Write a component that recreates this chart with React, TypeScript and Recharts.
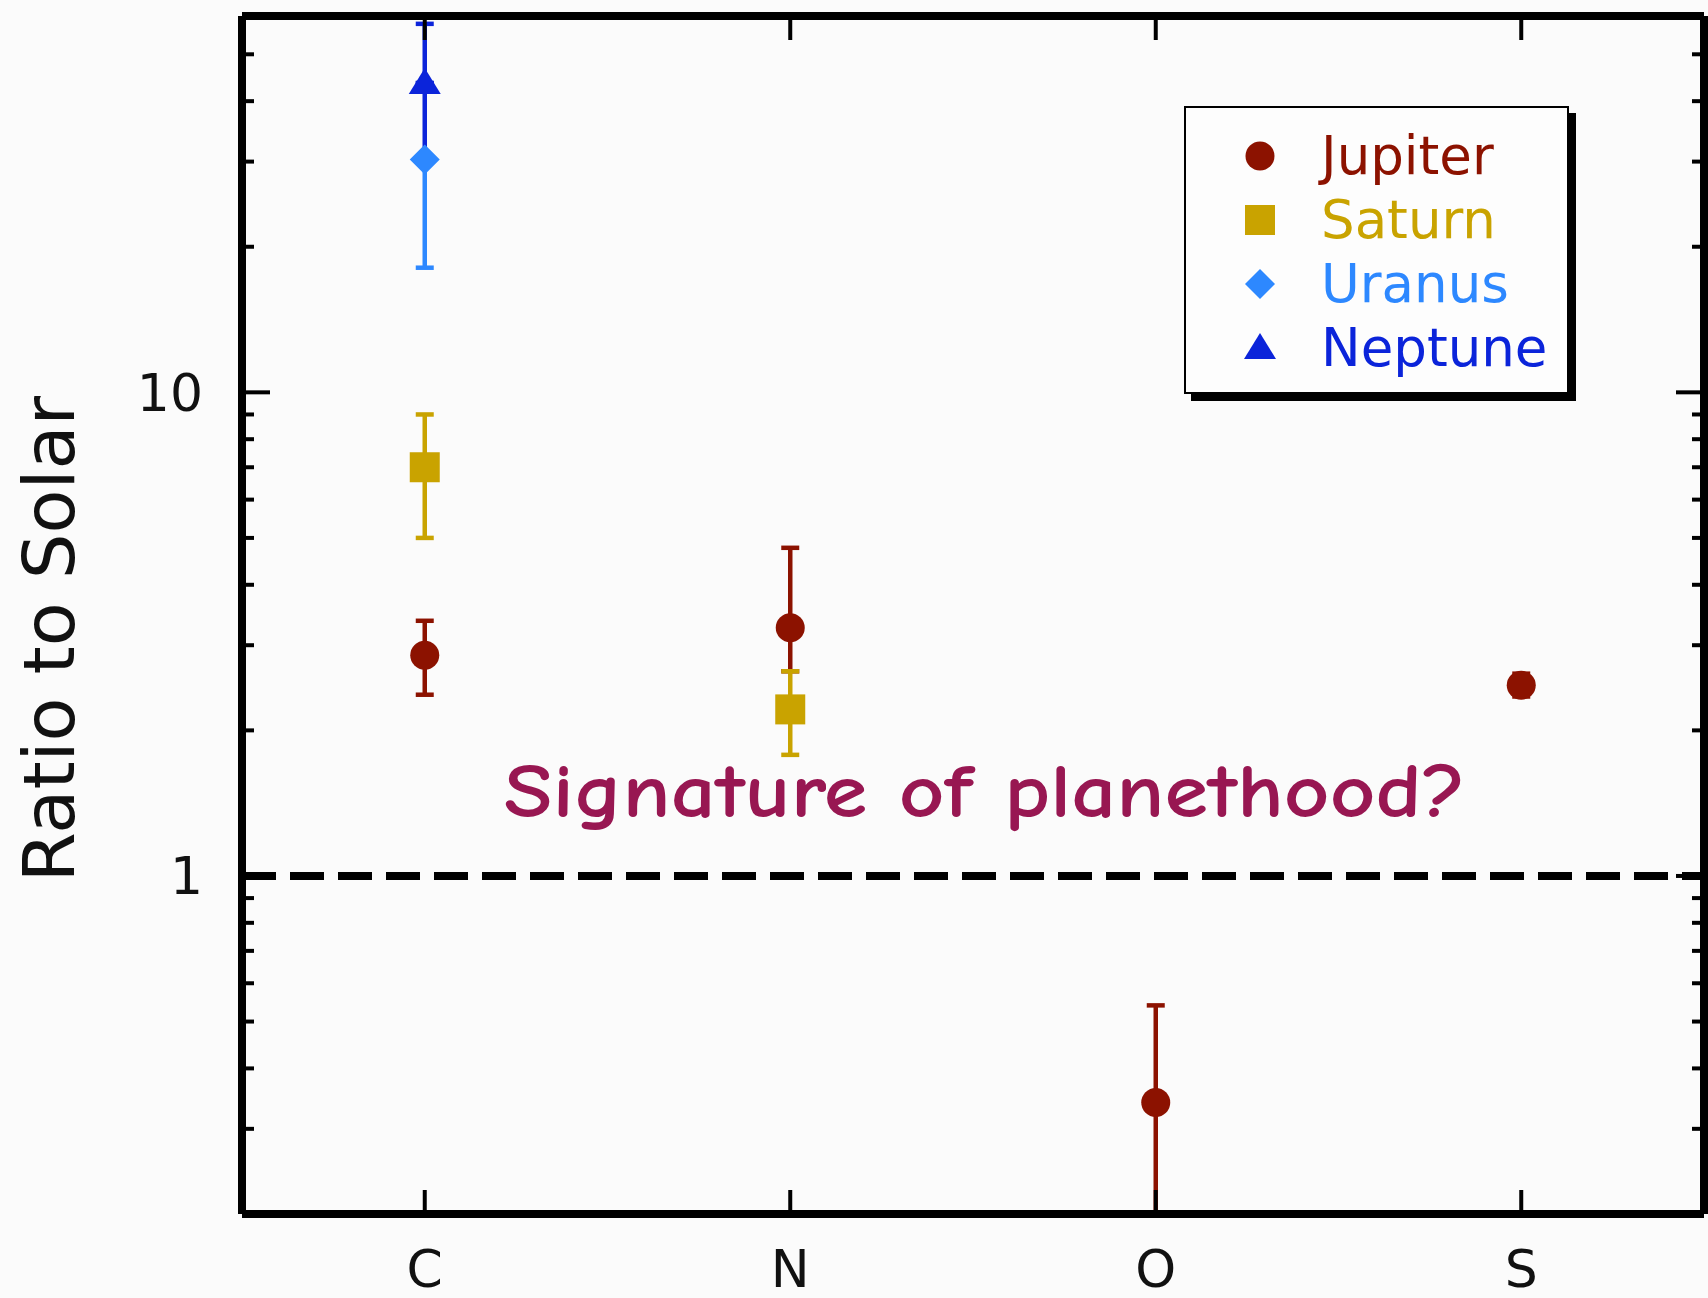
import React from 'react';
import { ScatterChart, Scatter, XAxis, YAxis, ErrorBar, ReferenceLine, Legend, Label } from 'recharts';

// element abundances relative to solar, one band per element
const elements = ['C', 'N', 'O', 'S'];

const jupiterRatio = [2.86, 3.26, 0.34, 2.48];
const jupiterLow = [2.37, 2.65, 0.15, 2.35];
const jupiterHigh = [3.37, 4.77, 0.54, 2.62];

const saturnRatio = [7.0, 2.21];
const saturnLow = [5.0, 1.78];
const saturnHigh = [9.0, 2.65];

const uranusRatio = [30.3];
const uranusLow = [18.1];
const uranusHigh = [30.3];

const neptuneRatio = [43.6];
const neptuneLow = [30.3];
const neptuneHigh = [57.8];

const yDomain: [number, number] = [0.2, 60];
const xDomain: [number, number] = [0, 4];
const yMajorTicks = [1, 10];
const yMinorTicks = [0.3, 0.4, 0.5, 0.6, 0.7, 0.8, 0.9, 2, 3, 4, 5, 6, 7, 8, 9, 20, 30, 40, 50];
const bandTicks = elements.map((_, i) => i + 0.5);

type MarkKind = 'circle' | 'square' | 'diamond' | 'triangle';
type Point = { x: number; y: number; errUp: number[]; errDown: number[]; open: boolean };

// lower bars that run past the bottom of the axis are cut at the floor and get no cap
function toPoints(ratio: number[], low: number[], high: number[]): Point[] {
  return ratio.map((v, i) => {
    const lo = Math.max(low[i], yDomain[0]);
    return {
      x: i + 0.5,
      y: v,
      errUp: [0, high[i] - v],
      errDown: [v - lo, 0],
      open: low[i] < yDomain[0],
    };
  });
}

const series = [
  { name: 'Jupiter', color: '#8c1200', kind: 'circle' as MarkKind, data: toPoints(jupiterRatio, jupiterLow, jupiterHigh) },
  { name: 'Saturn', color: '#c9a300', kind: 'square' as MarkKind, data: toPoints(saturnRatio, saturnLow, saturnHigh) },
  { name: 'Uranus', color: '#2d88ff', kind: 'diamond' as MarkKind, data: toPoints(uranusRatio, uranusLow, uranusHigh) },
  { name: 'Neptune', color: '#0b24da', kind: 'triangle' as MarkKind, data: toPoints(neptuneRatio, neptuneLow, neptuneHigh) },
];

// Neptune is drawn before Uranus so the diamond sits on top of the shared bar
const drawOrder = ['Jupiter', 'Saturn', 'Neptune', 'Uranus'];

function Mark({ kind, cx, cy, color }: { kind: MarkKind; cx: number; cy: number; color: string }) {
  switch (kind) {
    case 'circle':
      return <circle cx={cx} cy={cy} r={14.5} fill={color} />;
    case 'square':
      return <rect x={cx - 15} y={cy - 15} width={30} height={30} fill={color} />;
    case 'diamond':
      return <polygon points={`${cx},${cy - 15} ${cx + 15},${cy} ${cx},${cy + 15} ${cx - 15},${cy}`} fill={color} />;
    default:
      return <polygon points={`${cx},${cy - 15} ${cx + 16},${cy + 11} ${cx - 16},${cy + 11}`} fill={color} />;
  }
}

function LegendBox() {
  return (
    <div
      style={{
        width: 385,
        height: 288,
        boxSizing: 'border-box',
        border: '2px solid #000',
        background: '#fdfdfd',
        boxShadow: '7px 7px 0 #000',
        position: 'relative',
        fontFamily: "'DejaVu Sans', Verdana, sans-serif",
      }}
    >
      {series.map((s, i) => (
        <div key={s.name} style={{ position: 'absolute', left: 0, top: 16 + i * 64, height: 64, display: 'flex', alignItems: 'center' }}>
          <svg width={100} height={64} style={{ marginLeft: 24 }}>
            <Mark kind={s.kind} cx={50} cy={32} color={s.color} />
          </svg>
          <span style={{ color: s.color, fontSize: 53, marginLeft: 11, lineHeight: '64px' }}>{s.name}</span>
        </div>
      ))}
    </div>
  );
}

function YTitle(props: any) {
  const { viewBox } = props;
  const x = viewBox.x + 74;
  const y = viewBox.y + viewBox.height / 2 + 24;
  return (
    <text x={x} y={y} transform={`rotate(-90, ${x}, ${y})`} textAnchor="middle" fontSize={72} fill="#111">
      Ratio to Solar
    </text>
  );
}

function Annotation(props: any) {
  const { viewBox } = props;
  return (
    <text
      x={viewBox.x + viewBox.width / 2 + 12}
      y={viewBox.y - 59}
      textAnchor="middle"
      fontSize={76}
      fontWeight={700}
      fill="#981752"
      fontFamily="'Comic Sans MS', 'Comic Neue', 'DejaVu Sans', sans-serif"
      textLength={962}
      lengthAdjust="spacingAndGlyphs"
    >
      Signature of planethood?
    </text>
  );
}

const frame = { stroke: '#000', strokeWidth: 8 };
const tickMark = { stroke: '#000', strokeWidth: 4 };
const noLabel = () => '';

// inward tick marks on the left and right sides of the frame
const innerY = { type: 'number' as const, scale: 'log' as const, domain: yDomain, mirror: true, width: 1, tickLine: tickMark, tickFormatter: noLabel, allowDataOverflow: true };

export default function App() {
  return (
    <div style={{ position: 'absolute', left: 0, top: 0, width: 1708, height: 1298, background: '#fbfbfb' }}>
      <ScatterChart
        width={1708}
        height={1298}
        margin={{ top: 16, right: 4, bottom: 0, left: 0 }}
        style={{ fontFamily: "'DejaVu Sans', Verdana, sans-serif" }}
      >
        {/* bottom frame: tick marks point inward, labels sit below */}
        <XAxis
          xAxisId="b"
          type="number"
          dataKey="x"
          domain={xDomain}
          ticks={bandTicks}
          interval={0}
          tickFormatter={(v: number) => elements[Math.floor(v)]}
          height={84}
          axisLine={frame}
          tickLine={tickMark}
          tickSize={-24}
          tickMargin={60}
          tick={{ fontSize: 52, fill: '#111' }}
          allowDataOverflow
        />
        <XAxis
          xAxisId="top"
          orientation="top"
          type="number"
          dataKey="x"
          domain={xDomain}
          ticks={bandTicks}
          interval={0}
          mirror
          height={1}
          axisLine={frame}
          tickLine={tickMark}
          tickSize={24}
          tickFormatter={noLabel}
          allowDataOverflow
        />

        <YAxis
          yAxisId="l"
          dataKey="y"
          type="number"
          scale="log"
          domain={yDomain}
          ticks={yMajorTicks}
          tickFormatter={(v: number) => String(v)}
          width={242}
          axisLine={frame}
          tickLine={false}
          tickSize={0}
          tickMargin={39}
          tick={{ fontSize: 52, fill: '#111' }}
          allowDataOverflow
        >
          <Label content={YTitle} />
        </YAxis>
        <YAxis yAxisId="lMin" {...innerY} ticks={yMinorTicks} tickSize={11} axisLine={false} />
        <YAxis yAxisId="lMaj" {...innerY} ticks={yMajorTicks} tickSize={28} axisLine={false} />
        <YAxis yAxisId="rMin" orientation="right" {...innerY} ticks={yMinorTicks} tickSize={11} axisLine={false} />
        <YAxis yAxisId="rMaj" orientation="right" {...innerY} ticks={yMajorTicks} tickSize={28} axisLine={frame} />

        <ReferenceLine xAxisId="b" yAxisId="l" y={1} stroke="#000" strokeWidth={8} strokeDasharray="34 14">
          <Label content={Annotation} />
        </ReferenceLine>

        {drawOrder.flatMap((name) => {
          const s = series.find((d) => d.name === name)!;
          const capped = s.data.filter((p) => !p.open);
          const open = s.data.filter((p) => p.open);
          const groups = [
            { key: `${s.name}`, data: capped, lowerCap: 9 },
            { key: `${s.name}-open`, data: open, lowerCap: 0 },
          ].filter((g) => g.data.length > 0);
          return groups.map((g) => (
            <Scatter
              key={g.key}
              name={s.name}
              xAxisId="b"
              yAxisId="l"
              data={g.data}
              fill={s.color}
              isAnimationActive={false}
              shape={(p: any) => <Mark kind={s.kind} cx={p.cx} cy={p.cy} color={s.color} />}
            >
              <ErrorBar dataKey="errUp" direction="y" width={9} strokeWidth={4.5} stroke={s.color} />
              <ErrorBar dataKey="errDown" direction="y" width={g.lowerCap} strokeWidth={4.5} stroke={s.color} />
            </Scatter>
          ));
        })}

        <Legend
          layout="vertical"
          align="center"
          verticalAlign="middle"
          content={() => <LegendBox />}
          wrapperStyle={{ left: 1184, top: 106, width: 385, height: 288 }}
        />
      </ScatterChart>
    </div>
  );
}
